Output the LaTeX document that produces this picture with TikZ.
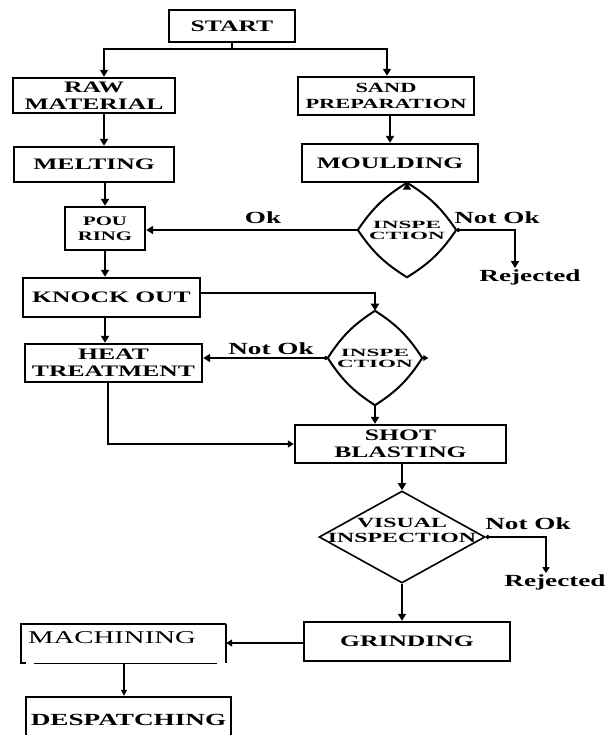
\documentclass[tikz,border=0pt]{standalone}
\usepackage{fontspec}
\setmainfont{Liberation Serif}[FakeStretch=1.6]
\newfontfamily\widefont{Liberation Serif}[FakeStretch=2.1]
\newfontfamily\vwidefont{Liberation Serif}[FakeStretch=1.7]
\usetikzlibrary{arrows.meta,shapes.geometric}
\tikzset{
  box/.style={draw, line width=2.4pt, inner sep=0pt, align=center,
    font=\bfseries\fontsize{16}{17}\selectfont},
  arr/.style={line width=2.6pt, -{Triangle[width=8pt,length=7pt]}},
  tarr/.style={line width=1.8pt, -{Triangle[width=7pt,length=6pt]}},
  dotstart/.style={{Circle[length=4pt]}-{Triangle[width=8pt,length=7pt]}},
  lbl/.style={font=\bfseries\fontsize{17}{17}\selectfont, inner sep=0pt},
  dia/.style={diamond, draw=none, inner sep=0pt, align=center,
    font=\widefont\bfseries\fontsize{11}{11}\selectfont},
  wobbly/.style={line width=2pt}
}
\begin{document}
\begin{tikzpicture}[x=1pt,y=-1pt]
\useasboundingbox (0,0) rectangle (608,735);
\clip (0,0) rectangle (608,735);

% boxes
\node[box, minimum width=126, minimum height=32] (START) at (232,26) {START};
\node[box, minimum width=162, minimum height=35] (RAW) at (94,95.5) {RAW\\MATERIAL};
\node[box, minimum width=176, minimum height=38, font=\bfseries\fontsize{14}{16}\selectfont] (SAND) at (386,96) {SAND\\PREPARATION};
\node[box, minimum width=160, minimum height=35] (MELT) at (94,164.5) {MELTING};
\node[box, minimum width=176, minimum height=38] (MOULD) at (390,163) {MOULDING};
\node[box, minimum width=80, minimum height=43, font=\bfseries\fontsize{13}{15}\selectfont] (POUR) at (105,228.5) {POU\\RING};
\node[box, minimum width=177, minimum height=39] (KNOCK) at (111.5,297.5) {KNOCK OUT};
\node[box, minimum width=177, minimum height=38] (HEAT) at (113.5,363) {HEAT\\TREATMENT};
\node[box, minimum width=211, minimum height=38] (SHOT) at (400.5,444) {SHOT\\BLASTING};
\node[box, minimum width=206, minimum height=39] (GRIND) at (407,641.5) {GRINDING};
\node[box, minimum width=205, minimum height=46, font=\bfseries\fontsize{17}{17}\selectfont] (DESP) at (128.5,720) {DESPATCHING};

% machining open frame
\node[draw=none, minimum width=205, minimum height=39, inner sep=0pt] (MACHBOX) at (123.5,643.5) {};
\node[inner sep=0pt, font=\fontsize{18}{18}\selectfont] (MACHtext) at (112,638) {MACHINING};
\draw[line width=2.4pt] ([xshift=5]MACHBOX.south west) -- (MACHBOX.south west) -- (MACHBOX.north west) -- (MACHBOX.north east);
\draw[line width=1.5pt] (MACHBOX.north east) -- (MACHBOX.south east);
\draw[line width=1pt] ([xshift=13]MACHBOX.south west) -- ([xshift=-9]MACHBOX.south east);

% diamonds
\node[dia, minimum width=98, minimum height=74] (D1) at (407,230) {INSPE\\CTION};
\draw[wobbly] (D1.north) to[bend right=12] (D1.west) to[bend right=12] (D1.south)
  to[bend right=12] (D1.east) to[bend right=12] (D1.north);
\node[dia, minimum width=94, minimum height=70] (D2) at (375,358) {INSPE\\CTION};
\draw[wobbly] (D2.north) to[bend right=12] (D2.west) to[bend right=12] (D2.south)
  to[bend right=12] (D2.east) to[bend right=12] (D2.north);
\node[diamond, draw, line width=1.6pt, inner sep=0pt, minimum width=166, minimum height=92] (D3) at (402,537) {};
\node[inner sep=0pt, align=center, font=\vwidefont\bfseries\fontsize{14}{15}\selectfont] (D3text) at (402,530) {VISUAL\\INSPECTION};

% labels
\node[lbl] (OK1) at (263,218) {Ok};
\node[lbl] (NOK1) at (497,218) {Not Ok};
\node[lbl, inner sep=1pt] (REJ1) at (530,277) {Rejected};
\node[lbl] (NOK2) at (271,349) {Not Ok};
\node[lbl] (NOK3) at (528,524) {Not Ok};
\node[lbl, inner sep=1pt] (REJ2) at (555,582) {Rejected};

% connectors
\coordinate (split) at (232,49);
\draw[line width=2.6pt] (START.south) -- (split);
\draw[arr] (split) -| ([xshift=10]RAW.north);
\draw[arr] (split) -| ([xshift=1]SAND.north);
\draw[arr] ([xshift=10]RAW.south) -- ([xshift=10]MELT.north);
\draw[arr] (MELT.south -| POUR.north) -- (POUR.north);
\draw[arr] (SAND.south -| MOULD.north) -- (MOULD.north);
\draw[arr] (MOULD.south -| D1.north) -- (D1.north);
\draw[arr] (D1.west) -- (D1.west -| POUR.east);
\draw[arr, dotstart] (D1.east) -| ([xshift=-15]REJ1.north);
\draw[arr] (POUR.south) -- (POUR.south |- KNOCK.north);
\draw[arr] (KNOCK.south -| POUR.south) -- (HEAT.north -| POUR.south);
\draw[arr] ([yshift=4.5]KNOCK.east) -| (D2.north);
\draw[arr, dotstart] (D2.west) -- (D2.west -| HEAT.east);
\draw[line width=2pt, -{Triangle[width=6pt,length=5pt]}] (D2.east) -- ++(6,0);
\draw[arr] (D2.south) -- (D2.south |- SHOT.north);
\draw[tarr] ([xshift=-5.5]HEAT.south) |- (SHOT.west);
\draw[arr] (SHOT.south -| D3.north) -- (D3.north);
\draw[arr] (D3.south) -- (D3.south |- GRIND.north);
\draw[tarr, {Circle[length=4pt]}-{Triangle[width=7pt,length=6pt]}] (D3.east) -| ([xshift=-9]REJ2.north);
\draw[tarr] ([yshift=-1.5]GRIND.west) -- ([yshift=-1.5]GRIND.west -| MACHBOX.east);
\draw[line width=1.3pt, -{Triangle[width=6pt,length=6pt]}] ([xshift=0.5]MACHBOX.south) -- ([xshift=0.5]MACHBOX.south |- DESP.north);
\end{tikzpicture}
\end{document}
